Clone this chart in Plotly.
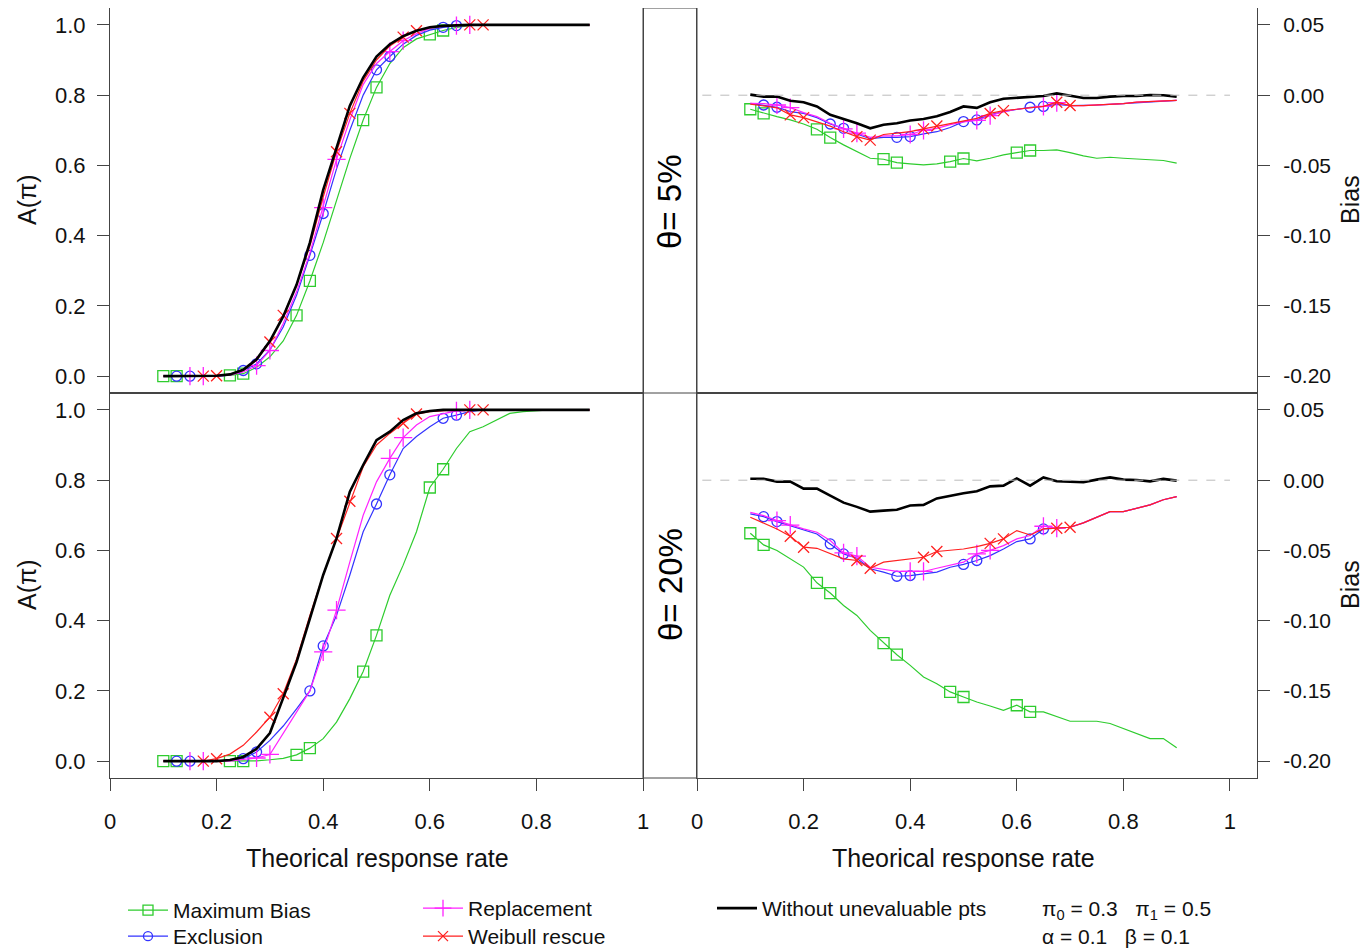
import plotly.graph_objects as go

# ---------------- data ----------------
x_grid = [0.1, 0.125, 0.15, 0.175, 0.2, 0.225, 0.25, 0.275, 0.3, 0.325, 0.35,
          0.375, 0.4, 0.425, 0.45, 0.475, 0.5, 0.525, 0.55, 0.575, 0.6, 0.625,
          0.65, 0.675, 0.7, 0.725, 0.75, 0.775, 0.8, 0.825, 0.85, 0.875, 0.9]

series_names = ["Maximum Bias", "Exclusion", "Replacement", "Weibull rescue",
                "Without unevaluable pts"]

# theta = 5%, A(pi)
a5_maxbias = [0, 0, 0, 0, 0.001, 0.002, 0.007, 0.025, 0.055, 0.10, 0.173, 0.271, 0.38,
              0.50, 0.62, 0.729, 0.822, 0.89, 0.935, 0.96, 0.973, 0.984, 0.993, 0.998,
              1, 1, 1, 1, 1, 1, 1, 1, 1]
a5_exclusion = [0, 0, 0, 0, 0, 0.003, 0.016, 0.035, 0.075, 0.14, 0.23, 0.344, 0.463,
                0.59, 0.70, 0.80, 0.872, 0.91, 0.945, 0.97, 0.985, 0.993, 0.998,
                1, 1, 1, 1, 1, 1, 1, 1, 1, 1]
a5_replacement = [0, 0, 0, 0, 0, 0.003, 0.012, 0.03, 0.073, 0.15, 0.24, 0.35, 0.48,
                  0.617, 0.73, 0.83, 0.89, 0.924, 0.955, 0.975, 0.99, 0.996, 0.998,
                  1, 1, 1, 1, 1, 1, 1, 1, 1, 1]
a5_weibull = [0, 0, 0, 0, 0.001, 0.004, 0.016, 0.045, 0.097, 0.173, 0.26, 0.37, 0.51,
              0.639, 0.748, 0.84, 0.90, 0.94, 0.965, 0.983, 0.992, 0.997, 0.999,
              1, 1, 1, 1, 1, 1, 1, 1, 1, 1]
a5_without = [0, 0, 0, 0, 0.001, 0.005, 0.018, 0.048, 0.10, 0.17, 0.26, 0.38, 0.53,
              0.65, 0.77, 0.85, 0.91, 0.945, 0.968, 0.983, 0.993, 0.997, 0.999,
              1, 1, 1, 1, 1, 1, 1, 1, 1, 1]

# theta = 5%, Bias
b5_maxbias = [-0.0100, -0.0129, -0.0153, -0.0176, -0.0205, -0.0243, -0.0302, -0.0354,
              -0.0402, -0.0449, -0.0456, -0.048, -0.0489, -0.0496, -0.0489, -0.0473,
              -0.0451, -0.0468, -0.0449, -0.0425, -0.0409, -0.0394, -0.0394, -0.039,
              -0.0409, -0.0432, -0.0449, -0.0442, -0.0449, -0.0454, -0.0456, -0.0465,
              -0.0484]
b5_exclusion = [-0.0058, -0.007, -0.0086, -0.0117, -0.013, -0.016, -0.0205, -0.0236,
                -0.0276, -0.031, -0.030, -0.030, -0.0295, -0.0276, -0.026, -0.023,
                -0.0188, -0.0176, -0.014, -0.0117, -0.010, -0.0086, -0.008, -0.0065,
                -0.0074, -0.0074, -0.007, -0.0065, -0.006, -0.005, -0.0046, -0.004,
                -0.0037]
b5_replacement = [-0.0058, -0.006, -0.007, -0.0089, -0.0124, -0.0153, -0.020, -0.024,
                  -0.027, -0.030, -0.029, -0.029, -0.028, -0.025, -0.0236, -0.021,
                  -0.019, -0.018, -0.0146, -0.0117, -0.010, -0.009, -0.008, -0.0053,
                  -0.0074, -0.0074, -0.007, -0.0065, -0.006, -0.005, -0.0046, -0.004,
                  -0.0037]
b5_weibull = [-0.0063, -0.0074, -0.009, -0.014, -0.016, -0.019, -0.022, -0.026,
              -0.0295, -0.032, -0.028, -0.027, -0.026, -0.024, -0.022, -0.020,
              -0.018, -0.0165, -0.013, -0.011, -0.010, -0.009, -0.008, -0.005,
              -0.0074, -0.0074, -0.007, -0.0065, -0.006, -0.005, -0.0046, -0.004,
              -0.0037]
b5_without = [0.0004, -0.001, -0.001, -0.004, -0.005, -0.008, -0.014, -0.017, -0.020,
              -0.0236, -0.021, -0.020, -0.018, -0.017, -0.015, -0.012, -0.008, -0.009,
              -0.005, -0.0025, -0.002, -0.001, -0.0006, 0.0013, -0.0006, -0.002, -0.002,
              -0.001, -0.0006, -0.0006, 0.0001, 0.0, -0.001]

# theta = 20%, A(pi)
a20_maxbias = [0, 0, 0, 0, 0, 0, 0, 0.001, 0.004, 0.008, 0.018, 0.037, 0.064, 0.111,
               0.178, 0.255, 0.358, 0.472, 0.558, 0.653, 0.779, 0.831, 0.89, 0.938,
               0.952, 0.971, 0.99, 0.995, 0.998, 1, 1, 1, 1]
a20_exclusion = [0, 0, 0, 0, 0, 0.002, 0.007, 0.026, 0.059, 0.10, 0.149, 0.2, 0.328,
                 0.415, 0.53, 0.653, 0.732, 0.815, 0.89, 0.924, 0.952, 0.976, 0.985,
                 0.995, 1, 1, 1, 1, 1, 1, 1, 1, 1]
a20_replacement = [0, 0, 0, 0, 0, 0, 0.005, 0.009, 0.019, 0.08, 0.14, 0.2, 0.311,
                   0.43, 0.567, 0.70, 0.795, 0.862, 0.921, 0.957, 0.981, 0.99, 0.997,
                   1, 1, 1, 1, 1, 1, 1, 1, 1, 1]
a20_weibull = [0, 0, 0, 0, 0.007, 0.02, 0.045, 0.083, 0.125, 0.192, 0.29, 0.415, 0.53,
               0.634, 0.74, 0.838, 0.90, 0.933, 0.962, 0.988, 0.995, 0.998,
               1, 1, 1, 1, 1, 1, 1, 1, 1, 1, 1]
a20_without = [0, 0, 0, 0, 0, 0.003, 0.012, 0.035, 0.08, 0.18, 0.282, 0.406, 0.53,
               0.634, 0.767, 0.843, 0.914, 0.938, 0.971, 0.99, 0.997,
               1, 1, 1, 1, 1, 1, 1, 1, 1, 1, 1, 1]

# theta = 20%, Bias
b20_maxbias = [-0.0378, -0.0461, -0.0501, -0.056, -0.0619, -0.0731, -0.0804, -0.0892,
               -0.0963, -0.107, -0.116, -0.1243, -0.1319, -0.1402, -0.1449, -0.1508,
               -0.1544, -0.158, -0.1608, -0.1639, -0.1603, -0.165, -0.165, -0.1686,
               -0.1717, -0.1717, -0.1717, -0.1733, -0.1769, -0.1805, -0.184, -0.184,
               -0.1906]
b20_exclusion = [-0.024, -0.026, -0.0295, -0.0323, -0.0352, -0.0383, -0.0454, -0.0525,
                 -0.0556, -0.0631, -0.0655, -0.0684, -0.0679, -0.0667, -0.0655, -0.062,
                 -0.060, -0.0572, -0.0537, -0.049, -0.0437, -0.0418, -0.0347, -0.0342,
                 -0.0335, -0.0304, -0.0264, -0.0224, -0.0224, -0.02, -0.0176, -0.0139,
                 -0.0117]
b20_replacement = [-0.0229, -0.0252, -0.0288, -0.032, -0.0347, -0.0371, -0.043, -0.0518,
                   -0.0541, -0.062, -0.0636, -0.065, -0.065, -0.065, -0.0627, -0.0608,
                   -0.0584, -0.0525, -0.050, -0.0466, -0.0418, -0.0394, -0.0328, -0.0342,
                   -0.0335, -0.0304, -0.0264, -0.0224, -0.0224, -0.02, -0.0176, -0.0139,
                   -0.0117]
b20_weibull = [-0.0264, -0.0304, -0.0347, -0.0399, -0.0477, -0.0485, -0.0525, -0.056,
               -0.0572, -0.0627, -0.0584, -0.0572, -0.0565, -0.0549, -0.0508, -0.0501,
               -0.049, -0.0473, -0.045, -0.0418, -0.0359, -0.039, -0.0347, -0.0342,
               -0.0335, -0.0304, -0.0264, -0.0224, -0.0224, -0.02, -0.0176, -0.0139,
               -0.0117]
b20_without = [0.001, 0.001, -0.001, -0.001, -0.006, -0.006, -0.011, -0.016, -0.019,
               -0.0224, -0.0217, -0.021, -0.018, -0.0176, -0.013, -0.011, -0.0093,
               -0.0079, -0.0044, -0.0039, 0.0013, -0.0039, 0.002, -0.0008, -0.001,
               -0.0015, 0.0004, 0.002, 0.0004, 0.0001, -0.0008, 0.0009, -0.0003]

# x positions where each method draws its symbol
marks_maxbias = [0.1, 0.125, 0.225, 0.25, 0.35, 0.375, 0.475, 0.5, 0.6, 0.625]
marks_exclusion = [0.125, 0.15, 0.25, 0.275, 0.375, 0.4, 0.5, 0.525, 0.625, 0.65]
marks_replacement = [0.15, 0.175, 0.275, 0.3, 0.4, 0.425, 0.525, 0.55, 0.65, 0.675]
marks_weibull = [0.175, 0.2, 0.3, 0.325, 0.425, 0.45, 0.55, 0.575, 0.675, 0.7]

left_ticks = [0.0, 0.2, 0.4, 0.6, 0.8, 1.0]
left_ticktext = ["0.0", "0.2", "0.4", "0.6", "0.8", "1.0"]
right_ticks = [0.05, 0.0, -0.05, -0.10, -0.15, -0.20]
right_ticktext = ["0.05", "0.00", "-0.05", "-0.10", "-0.15", "-0.20"]
x_ticks = [0, 0.2, 0.4, 0.6, 0.8, 1.0]
x_ticktext = ["0", "0.2", "0.4", "0.6", "0.8", "1"]

# ---------------- styles ----------------
FONT = "Liberation Sans, Arial, Helvetica, sans-serif"
PAGE_OFF = 8                      # default body margin of the html page
W, H = 1369 - PAGE_OFF, 951 - PAGE_OFF
styles = {
    "Maximum Bias": dict(color="#2ECC2E", symbol="square-open", size=11, lw=1.2),
    "Exclusion": dict(color="#3333FF", symbol="circle-open", size=10, lw=1.2),
    "Replacement": dict(color="#FF22FF", symbol="cross-thin-open", size=13, lw=1.2),
    "Weibull rescue": dict(color="#FF2020", symbol="x-thin-open", size=11, lw=1.2),
    "Without unevaluable pts": dict(color="#000000", symbol=None, size=0, lw=2.6),
}
marks = {"Maximum Bias": marks_maxbias, "Exclusion": marks_exclusion,
         "Replacement": marks_replacement, "Weibull rescue": marks_weibull}

panels = [
    ("x", "y", [a5_maxbias, a5_exclusion, a5_replacement, a5_weibull, a5_without]),
    ("x2", "y2", [b5_maxbias, b5_exclusion, b5_replacement, b5_weibull, b5_without]),
    ("x3", "y3", [a20_maxbias, a20_exclusion, a20_replacement, a20_weibull, a20_without]),
    ("x4", "y4", [b20_maxbias, b20_exclusion, b20_replacement, b20_weibull, b20_without]),
]

fig = go.Figure()
for xa, ya, data in panels:
    for name, yvals in zip(series_names, data):
        st = styles[name]
        fig.add_trace(go.Scatter(x=x_grid, y=yvals, mode="lines", xaxis=xa, yaxis=ya,
                                 line=dict(color=st["color"], width=st["lw"]),
                                 showlegend=False, hoverinfo="skip"))
        if name in marks:
            mx = marks[name]
            my = [yvals[x_grid.index(v)] for v in mx]
            fig.add_trace(go.Scatter(x=mx, y=my, mode="markers", xaxis=xa, yaxis=ya,
                                     marker=dict(symbol=st["symbol"], size=st["size"],
                                                 color=st["color"],
                                                 line=dict(color=st["color"], width=1.3)),
                                     showlegend=False, hoverinfo="skip"))

# legend-only entries, one legend box per entry so that rows sit like the original
legend_ids = {"Maximum Bias": "legend", "Exclusion": "legend2",
              "Replacement": "legend3", "Weibull rescue": "legend4",
              "Without unevaluable pts": "legend5"}
for name in series_names:
    st = styles[name]
    if st["symbol"]:
        fig.add_trace(go.Scatter(x=[None], y=[None], mode="lines+markers", name=name,
                                 line=dict(color=st["color"], width=1.2),
                                 marker=dict(symbol=st["symbol"], size=st["size"] - 1,
                                             color=st["color"],
                                             line=dict(color=st["color"], width=1.3)),
                                 legend=legend_ids[name]))
    else:
        fig.add_trace(go.Scatter(x=[None], y=[None], mode="lines", name=name,
                                 line=dict(color=st["color"], width=2.6),
                                 legend=legend_ids[name]))

# ---------------- layout ----------------
def px_x(p):
    return (p - PAGE_OFF) / W

def px_y(p):
    return 1 - (p - PAGE_OFF) / H

LEFT_DOM = [px_x(110), px_x(643)]
RIGHT_DOM = [px_x(697), px_x(1257)]
TOP_DOM = [px_y(393), px_y(8)]
BOT_DOM = [px_y(778), px_y(393)]
LINE = "#444444"
tick_l = dict(family=FONT, size=22, color="#111")
tick_r = dict(family=FONT, size=21, color="#111")

def xaxis(dom, anchor, rng, labels):
    d = dict(domain=dom, anchor=anchor, range=rng, showgrid=False, zeroline=False,
             showline=True, mirror=True, linecolor=LINE, linewidth=1, automargin=False)
    if labels:
        d.update(tickmode="array", tickvals=x_ticks, ticktext=x_ticktext, ticks="outside",
                 ticklen=12, tickcolor=LINE, tickwidth=1, tickfont=tick_l,
                 ticklabelstandoff=12)
    else:
        d.update(showticklabels=False, ticks="")
    return d

def yaxis(dom, anchor, rng, side, vals, text, tf, standoff):
    return dict(domain=dom, anchor=anchor, range=rng, side=side, showgrid=False,
                zeroline=False, showline=True, mirror=True, linecolor=LINE, linewidth=1,
                tickmode="array", tickvals=vals, ticktext=text, ticks="outside",
                ticklen=12, tickcolor=LINE, tickwidth=1, tickfont=tf,
                ticklabelstandoff=standoff, automargin=False)

A_RANGE = [-0.048, 1.048]
B_RANGE = [-0.2121, 0.0621]
XL_RANGE = [0, 1.0]
XR_RANGE = [0, 1.0507]

legend_common = dict(xanchor="left", yanchor="top", bgcolor="rgba(0,0,0,0)",
                     font=dict(family=FONT, size=21, color="#111"),
                     tracegroupgap=0, itemwidth=40)

fig.update_layout(
    template="none",
    width=W, height=H, margin=dict(l=0, r=0, t=0, b=0, autoexpand=False),
    paper_bgcolor="white", plot_bgcolor="white",
    font=dict(family=FONT, size=21, color="#111"),
    xaxis=xaxis(LEFT_DOM, "y", XL_RANGE, False),
    yaxis=yaxis(TOP_DOM, "x", A_RANGE, "left", left_ticks, left_ticktext, tick_l, 7),
    xaxis2=xaxis(RIGHT_DOM, "y2", XR_RANGE, False),
    yaxis2=yaxis(TOP_DOM, "x2", B_RANGE, "right", right_ticks, right_ticktext, tick_r, 9),
    xaxis3=xaxis(LEFT_DOM, "y3", XL_RANGE, True),
    yaxis3=yaxis(BOT_DOM, "x3", A_RANGE, "left", left_ticks, left_ticktext, tick_l, 7),
    xaxis4=xaxis(RIGHT_DOM, "y4", XR_RANGE, True),
    yaxis4=yaxis(BOT_DOM, "x4", B_RANGE, "right", right_ticks, right_ticktext, tick_r, 9),
    legend=dict(x=px_x(123), y=px_y(890), **legend_common),
    legend2=dict(x=px_x(123), y=px_y(916), **legend_common),
    legend3=dict(x=px_x(418), y=px_y(888), **legend_common),
    legend4=dict(x=px_x(418), y=px_y(916), **legend_common),
    legend5=dict(x=px_x(712), y=px_y(888), **legend_common),
)

# zero reference lines on bias panels
for xr, yr in (("x2", "y2"), ("x4", "y4")):
    fig.add_shape(type="line", xref=xr, yref=yr, x0=0.01, x1=1.0, y0=0, y1=0,
                  line=dict(color="#BBBBBB", width=1, dash="dash"))

# theta strip between panels
fig.add_shape(type="rect", xref="paper", yref="paper", x0=px_x(643), x1=px_x(697),
              y0=px_y(778), y1=px_y(8), line=dict(color=LINE, width=1))
fig.add_shape(type="line", xref="paper", yref="paper", x0=px_x(643), x1=px_x(697),
              y0=px_y(393), y1=px_y(393), line=dict(color=LINE, width=1))

def note(xp, yp, text, size, angle=0, xanchor="center", color="#111"):
    return dict(x=px_x(xp), y=px_y(yp), text=text, textangle=angle, showarrow=False,
                xref="paper", yref="paper", xanchor=xanchor, yanchor="middle",
                font=dict(family=FONT, size=size, color=color))

ann = []
for yc in (200, 585):
    ann.append(note(27, yc, "A(π)", 25, -90))
    ann.append(note(1350, yc, "Bias", 25, -90))
ann.append(note(670, 202, "θ= 5%", 33, -90, color="#000"))
ann.append(note(670, 585, "θ= 20%", 33, -90, color="#000"))
for xc in (377, 963):
    ann.append(note(xc, 858, "Theorical response rate", 25))
ann.append(note(1040, 910, "π<sub>0</sub> = 0.3&#160;&#160;&#160;π<sub>1</sub> = 0.5",
                21, xanchor="left"))
ann.append(note(1040, 936, "α = 0.1&#160;&#160;&#160;β = 0.1", 21, xanchor="left"))
fig.update_layout(annotations=ann)

fig.write_html("out.html")
